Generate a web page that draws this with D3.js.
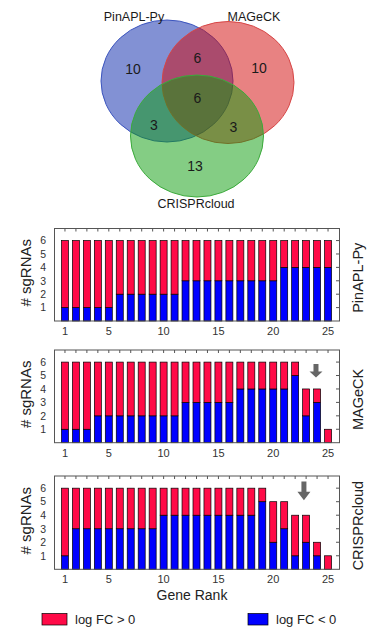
<!DOCTYPE html>
<html><head><meta charset="utf-8">
<script src="https://cdn.jsdelivr.net/npm/d3@7/dist/d3.min.js"></script>
<style>body{margin:0;background:#fff}svg{display:block}</style>
</head><body>
<svg id="chart" width="379" height="629"></svg>
<script>
// ---------------- DATA ----------------
const geneRanks = [1,2,3,4,5,6,7,8,9,10,11,12,13,14,15,16,17,18,19,20,21,22,23,24,25];
const methods = ["PinAPL-Py", "MAGeCK", "CRISPRcloud"];
// number of sgRNAs with log FC < 0 (blue) and log FC > 0 (red) per gene rank
const pinaplNeg  = [1,1,1,1,1,2,2,2,2,2,2,3,3,3,3,3,3,3,3,3,4,4,4,4,4];
const pinaplPos  = [5,5,5,5,5,4,4,4,4,4,4,3,3,3,3,3,3,3,3,3,2,2,2,2,2];
const mageckNeg  = [1,1,1,2,2,2,2,2,2,2,2,3,3,3,3,3,4,4,4,4,4,5,2,3,0];
const mageckPos  = [5,5,5,4,4,4,4,4,4,4,4,3,3,3,3,3,2,2,2,2,2,1,2,1,1];
const crisprNeg  = [1,3,3,3,3,3,3,3,3,4,4,4,4,4,4,4,4,4,5,2,3,1,2,1,0];
const crisprPos  = [5,3,3,3,3,3,3,3,3,2,2,2,2,2,2,2,2,2,1,3,2,3,2,1,1];
const xTickLabels = [1,5,10,15,20,25];
const yTickLabels = [1,2,3,4,5,6];
// arrows (gene rank, from / to in sgRNA units) for MAGeCK and CRISPRcloud panels
const arrowRanks = [null, 23.9, 22.8];
const arrowFrom  = [null, 5.85, 6.5];
const arrowTo    = [null, 4.85, 5.1];
// Venn diagram
const vennSets = ["PinAPL-Py", "MAGeCK", "CRISPRcloud"];
// regions: P only, M only, C only, P&M, P&C, M&C, P&M&C
const vennCounts = [10, 10, 13, 6, 3, 3, 6];
const legendLabels = ["log FC > 0", "log FC < 0"];

// ---------------- STYLE / LAYOUT ----------------
const RED = "#ff0a47", BLUE = "#0000ff";
const FONT = "'Liberation Sans', Arial, sans-serif";
const svg = d3.select("#chart");

// Venn
const vennCircles = [
  {cx:167, cy:81, rx:66, ry:61, fill:"rgb(5,35,170)", stroke:"rgb(60,85,190)"},
  {cx:228, cy:82.5, rx:66, ry:61, fill:"rgb(210,5,5)", stroke:"rgb(215,70,70)"},
  {cx:197, cy:136, rx:66.5, ry:61, fill:"rgb(10,155,10)", stroke:"rgb(60,170,60)"}
];
const vennNamePos = [[134,20.5],[254,20.5],[196,207.5]];
const vennCountPos = [[133,69],[259,68],[195,166],[197.5,57.5],[154,125],[233.5,127],[197.5,97.5]];

const venn = svg.append("g");
venn.selectAll("ellipse").data(vennCircles).join("ellipse")
  .attr("cx", d => d.cx).attr("cy", d => d.cy)
  .attr("rx", d => d.rx).attr("ry", d => d.ry)
  .attr("fill", d => d.fill).attr("fill-opacity", 0.5)
  .attr("stroke", d => d.stroke).attr("stroke-width", 1);
venn.selectAll("text.name").data(vennSets).join("text").attr("class","name")
  .attr("x", (d,i) => vennNamePos[i][0]).attr("y", (d,i) => vennNamePos[i][1])
  .attr("text-anchor","middle").attr("font-family",FONT).attr("font-size",12.5)
  .attr("fill","#1a1a1a").text(d => d);
venn.selectAll("text.count").data(vennCounts).join("text").attr("class","count")
  .attr("x", (d,i) => vennCountPos[i][0]).attr("y", (d,i) => vennCountPos[i][1])
  .attr("text-anchor","middle").attr("dominant-baseline","central")
  .attr("font-family",FONT).attr("font-size",14).attr("fill","#1a1a1a").text(d => d);

// Bar panels
const panelLayout = [
  {top:228.5, bottom:321},
  {top:350, bottom:442.7},
  {top:476, bottom:569.3}
];
const negSeries = [pinaplNeg, mageckNeg, crisprNeg];
const posSeries = [pinaplPos, mageckPos, crisprPos];
const left = 54, right = 339;
const x = d3.scaleLinear().domain([0, 26]).range([left, right]);
const barW = 7;
const stack = d3.stack().keys(["neg","pos"]);

methods.forEach((name, p) => {
  const L = panelLayout[p];
  const y = d3.scaleLinear().domain([0, 6.9]).range([L.bottom, L.top]);
  const rows = geneRanks.map((r, i) => ({rank:r, neg:negSeries[p][i], pos:posSeries[p][i]}));
  const series = stack(rows);
  const g = svg.append("g");

  // bars
  g.selectAll("g.s").data(series).join("g").attr("class","s")
    .attr("fill", d => d.key === "neg" ? BLUE : RED)
    .selectAll("rect").data(d => d.filter(s => s[1] > s[0])).join("rect")
    .attr("x", d => x(d.data.rank) - barW/2)
    .attr("width", barW)
    .attr("y", d => y(d[1]))
    .attr("height", d => y(d[0]) - y(d[1]))
    .attr("stroke", "#000").attr("stroke-width", 0.7);

  // frame
  g.append("rect").attr("x", left + 0.5).attr("y", L.top)
    .attr("width", right - left).attr("height", L.bottom - L.top)
    .attr("fill","none").attr("stroke","#555").attr("stroke-width",1);

  // top ticks (inside)
  g.selectAll("line.tt").data(geneRanks).join("line").attr("class","tt")
    .attr("x1", d => x(d)).attr("x2", d => x(d))
    .attr("y1", L.top).attr("y2", L.top + 3)
    .attr("stroke","#555").attr("stroke-width",1);
  // right ticks (inside)
  g.selectAll("line.rt").data(yTickLabels).join("line").attr("class","rt")
    .attr("x1", right).attr("x2", right - 3)
    .attr("y1", d => y(d)).attr("y2", d => y(d))
    .attr("stroke","#555").attr("stroke-width",1);

  // y tick labels
  g.selectAll("text.yl").data(yTickLabels).join("text").attr("class","yl")
    .attr("x", 46).attr("y", d => y(d)).attr("dy","0.36em")
    .attr("text-anchor","end").attr("font-family",FONT).attr("font-size",10.5)
    .attr("fill","#333").text(d => d);
  // x tick labels
  g.selectAll("text.xl").data(xTickLabels).join("text").attr("class","xl")
    .attr("x", d => x(d)).attr("y", L.bottom + 14)
    .attr("text-anchor","middle").attr("font-family",FONT).attr("font-size",11)
    .attr("fill","#333").text(d => d);

  // y title
  const cy = (L.top + L.bottom) / 2;
  g.append("text").attr("transform", `translate(31,${cy - 2}) rotate(-90)`)
    .attr("text-anchor","middle").attr("font-family",FONT).attr("font-size",15)
    .attr("fill","#222").text("# sgRNAs");
  // method name on right
  g.append("text").attr("transform", `translate(363,${cy + 3}) rotate(-90)`)
    .attr("text-anchor","middle").attr("font-family",FONT).attr("font-size",14.5)
    .attr("fill","#222").text(name);

  // arrow
  if (arrowRanks[p] !== null) {
    const ax = x(arrowRanks[p]), y0 = y(arrowFrom[p]), y1 = y(arrowTo[p]);
    const hl = (y1 - y0) * 0.45;
    const pts = [[ax-2.5,y0],[ax+2.5,y0],[ax+2.5,y1-hl],[ax+6.5,y1-hl],[ax,y1],[ax-6.5,y1-hl],[ax-2.5,y1-hl]];
    g.append("path").attr("d", d3.line()(pts) + "Z").attr("fill","#666");
  }
});

// x title
svg.append("text").attr("x", 192).attr("y", 600).attr("text-anchor","middle")
  .attr("font-family",FONT).attr("font-size",14).attr("fill","#222").text("Gene Rank");

// legend
const legendColors = [RED, BLUE];
const legendX = [42, 248];
const lg = svg.append("g");
lg.selectAll("rect").data(legendLabels).join("rect")
  .attr("x", (d,i) => legendX[i]).attr("y", 613.5)
  .attr("width", (d,i) => i === 0 ? 25 : 20).attr("height", 11.5)
  .attr("fill", (d,i) => legendColors[i]).attr("stroke","#000").attr("stroke-width",0.7);
lg.selectAll("text").data(legendLabels).join("text")
  .attr("x", (d,i) => legendX[i] + (i === 0 ? 33 : 28)).attr("y", 624)
  .attr("font-family",FONT).attr("font-size",13).attr("fill","#222").text(d => d);
</script>
</body></html>
